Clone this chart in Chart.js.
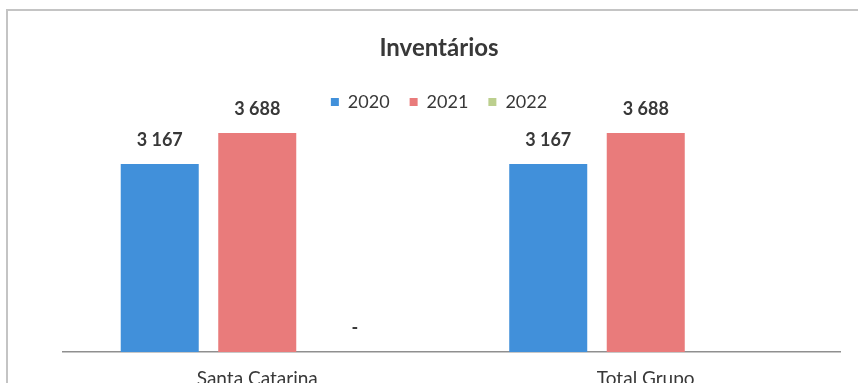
<!DOCTYPE html>
<html>
<head>
<meta charset="utf-8">
<title>Inventários</title>
<script src="https://cdn.jsdelivr.net/npm/chart.js@4"></script>
<style>
  html, body { margin: 0; padding: 0; background: #fff; overflow: hidden; }
  #frame { position: absolute; left: 6px; top: 9px; width: 900px; height: 420px; border: 2px solid #c4c4c4; }
  #wrap { position: absolute; left: 0; top: 0; width: 858px; height: 400px; }
</style>
</head>
<body>
<div id="frame"></div>
<div id="wrap"><canvas id="invChart"></canvas></div>
<script>
// Inventory values per entity and year
const categories = ['Santa Catarina', 'Total Grupo'];
const years = ['2020', '2021', '2022'];
const values2020 = [3167, 3167];
const values2021 = [3688, 3688];
const values2022 = [0, null];

const colors = ['#4190DA', '#E97B7B', '#BCCF8E'];
const textColor = '#383838';
const fontFamily = 'Lato, "Open Sans", sans-serif';

function fmt(v){
  if (v === 0) return '-';
  return String(v).replace(/\B(?=(\d{3})+(?!\d))/g, ' ');
}

// draws the value above each bar (dash for zero)
const valueLabels = {
  id: 'valueLabels',
  afterDatasetsDraw(chart){
    const ctx = chart.ctx;
    ctx.save();
    ctx.font = 'bold 18px ' + fontFamily;
    ctx.fillStyle = textColor;
    ctx.textAlign = 'center';
    ctx.textBaseline = 'alphabetic';
    chart.data.datasets.forEach((ds, i) => {
      const meta = chart.getDatasetMeta(i);
      meta.data.forEach((bar, j) => {
        const v = ds.data[j];
        if (v === null || v === undefined) return;
        ctx.fillText(fmt(v), bar.x, bar.y - 18);
      });
    });
    ctx.restore();
  }
};

const seriesValues = [values2020, values2021, values2022];

new Chart(document.getElementById('invChart').getContext('2d'), {
  type: 'bar',
  data: {
    labels: categories,
    datasets: years.map((y, i) => ({
      label: y,
      data: seriesValues[i],
      backgroundColor: colors[i],
      borderWidth: 0,
      categoryPercentage: 0.753,
      barPercentage: 0.8
    }))
  },
  options: {
    responsive: true,
    maintainAspectRatio: false,
    animation: false,
    layout: { padding: { left: 38, right: 18, top: 0, bottom: 0 } },
    plugins: {
      title: {
        display: true,
        text: 'Inventários',
        color: textColor,
        font: { family: fontFamily, size: 24, weight: 'bold' },
        padding: { top: 33.6, bottom: 10.6 }
      },
      legend: {
        display: true,
        position: 'top',
        labels: {
          boxWidth: 8,
          boxHeight: 8,
          padding: 20,
          color: textColor,
          font: { family: fontFamily, size: 18 }
        }
      },
      tooltip: { enabled: false }
    },
    scales: {
      x: {
        grid: { display: false, drawTicks: false },
        border: { display: true, color: '#8f8f8f', width: 1.5 },
        ticks: { color: textColor, padding: 15, font: { family: fontFamily, size: 19 } },
        afterFit: s => { s.height = 48; }
      },
      y: {
        min: 0,
        max: 3890,
        grid: { display: false, drawTicks: false },
        border: { display: false },
        ticks: { display: false },
        afterFit: s => { s.width = 25; }
      }
    }
  },
  plugins: [valueLabels]
});
</script>
</body>
</html>
